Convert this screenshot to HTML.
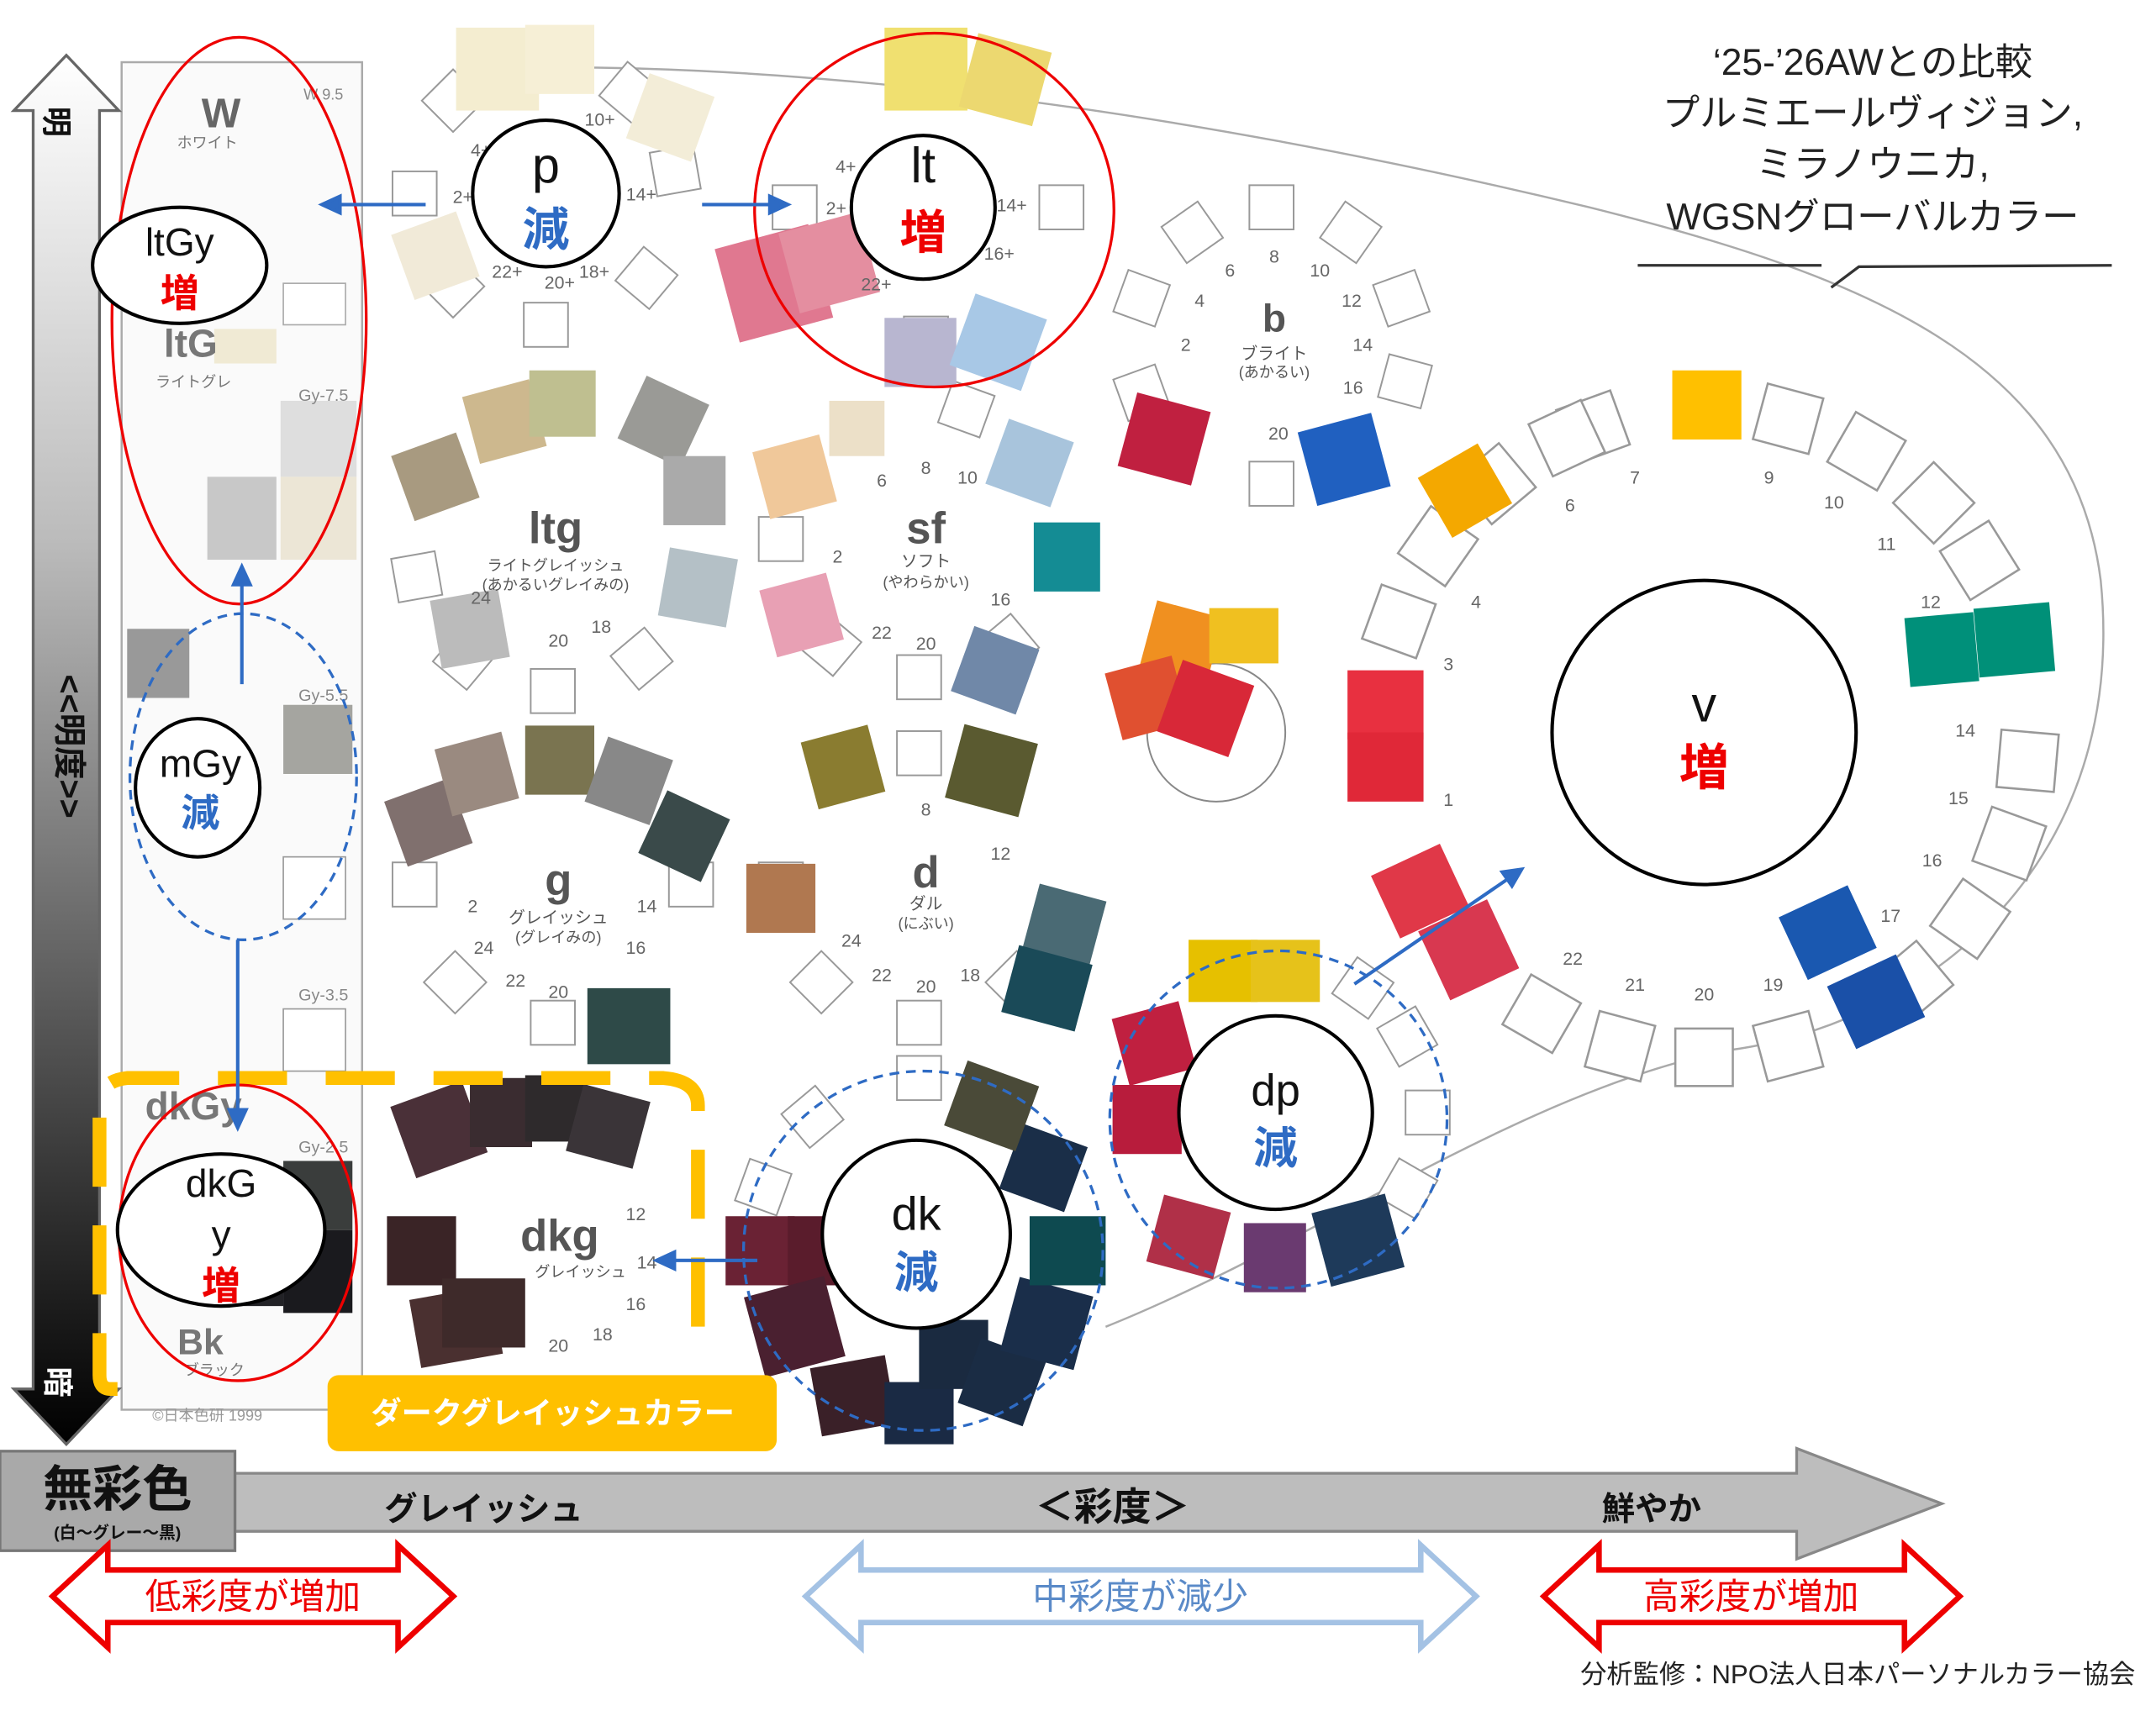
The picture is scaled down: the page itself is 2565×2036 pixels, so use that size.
<!DOCTYPE html>
<html><head><meta charset="utf-8"><style>
html,body{margin:0;padding:0;background:#fff;}
svg{display:block;}
text{font-family:"Liberation Sans","Noto Sans CJK JP",sans-serif;}
</style></head><body>
<svg width="2565" height="2036" viewBox="0 0 1560 1238" preserveAspectRatio="none" xmlns="http://www.w3.org/2000/svg">
<defs>
<linearGradient id="lg" x1="0" y1="0" x2="0" y2="1">
<stop offset="0" stop-color="#ffffff"/><stop offset="0.35" stop-color="#bbbbbb"/><stop offset="0.7" stop-color="#555"/><stop offset="1" stop-color="#000"/>
</linearGradient>
<rect id="sq" x="-16" y="-16" width="32" height="32" fill="#fff" stroke="#999" stroke-width="1.2"/>
</defs>
<rect width="1560" height="1238" fill="#fff"/>

<path d="M330,50 C600,40 900,90 1150,150 C1350,200 1500,260 1520,420 C1540,620 1400,740 1250,760 C1100,790 950,900 800,960" fill="none" stroke="#aaa" stroke-width="1.5"/>

<rect x="88" y="45" width="174" height="975" fill="#fafafa" stroke="#aaa" stroke-width="1.5"/>
<rect x="150" y="345" width="50" height="60" fill="#c8c8c8"/>
<rect x="203" y="290" width="55" height="55" fill="#dedede"/>
<rect x="203" y="345" width="55" height="60" fill="#ece6d6"/>
<rect x="155" y="238" width="45" height="25" fill="#f0ead4"/>
<rect x="92" y="455" width="45" height="50" fill="#999"/>
<rect x="205" y="510" width="50" height="50" fill="#a5a5a0"/>
<rect x="205" y="620" width="45" height="45" fill="#fff" stroke="#999"/>
<rect x="205" y="730" width="45" height="45" fill="#fff" stroke="#999"/>
<rect x="205" y="840" width="50" height="50" fill="#3a3d3c"/>
<rect x="205" y="890" width="50" height="60" fill="#1a1a1e"/>
<rect x="150" y="890" width="55" height="55" fill="#222226"/>
<rect x="205" y="205" width="45" height="30" fill="#fff" stroke="#aaa"/>
<text x="160" y="92" font-size="30" font-weight="bold" fill="#666" text-anchor="middle">W</text>
<text x="150" y="107" font-size="11" fill="#777" text-anchor="middle">ホワイト</text>
<text x="138" y="258" font-size="28" font-weight="bold" fill="#777" text-anchor="middle">ltG</text>
<text x="140" y="280" font-size="11" fill="#777" text-anchor="middle">ライトグレ</text>
<text x="234" y="72" font-size="11" fill="#888" text-anchor="middle">W 9.5</text>
<text x="234" y="290" font-size="12" fill="#888" text-anchor="middle">Gy-7.5</text>
<text x="234" y="507" font-size="12" fill="#888" text-anchor="middle">Gy-5.5</text>
<text x="234" y="724" font-size="12" fill="#888" text-anchor="middle">Gy-3.5</text>
<text x="234" y="834" font-size="12" fill="#888" text-anchor="middle">Gy-2.5</text>
<text x="140" y="810" font-size="28" font-weight="bold" fill="#777" text-anchor="middle">dkGy</text>
<text x="145" y="980" font-size="26" font-weight="bold" fill="#777" text-anchor="middle">Bk</text>
<text x="155" y="995" font-size="11" fill="#777" text-anchor="middle">ブラック</text>
<text x="150" y="1028" font-size="11" fill="#999" text-anchor="middle">©日本色研 1999</text>

<path d="M48,40 L86,80 L72,80 L72,1005 L86,1005 L48,1045 L10,1005 L24,1005 L24,80 L10,80 Z" fill="url(#lg)" stroke="#666" stroke-width="2"/>
<text x="42" y="97" font-size="22" font-weight="bold" fill="#111" text-anchor="middle" transform="rotate(90 42 88)">明</text>
<text x="42" y="1008" font-size="22" font-weight="bold" fill="#fff" text-anchor="middle" transform="rotate(90 42 1000)">暗</text>
<text x="42" y="540" font-size="24" font-weight="bold" fill="#111" text-anchor="middle" transform="rotate(90 42 540)">&lt;&lt;明度&gt;&gt;</text>

<!-- wheels of squares (under swatches) -->
<g transform="translate(395,140)"><use href="#sq" transform="rotate(0) translate(0,-95)"/><use href="#sq" transform="rotate(40) translate(0,-95)"/><use href="#sq" transform="rotate(80) translate(0,-95)"/><use href="#sq" transform="rotate(130) translate(0,-95)"/><use href="#sq" transform="rotate(180) translate(0,-95)"/><use href="#sq" transform="rotate(225) translate(0,-95)"/><use href="#sq" transform="rotate(270) translate(0,-95)"/><use href="#sq" transform="rotate(315) translate(0,-95)"/></g>
<g transform="translate(670,150)"><use href="#sq" transform="rotate(90) translate(0,-98)"/><use href="#sq" transform="rotate(270) translate(0,-95)"/><use href="#sq" transform="rotate(180) translate(0,-95)"/></g>
<g transform="translate(920,250)"><use href="#sq" transform="rotate(0) translate(0,-100)"/><use href="#sq" transform="rotate(35) translate(0,-100)"/><use href="#sq" transform="rotate(70) translate(0,-100)"/><use href="#sq" transform="rotate(105) translate(0,-100)"/><use href="#sq" transform="rotate(180) translate(0,-100)"/><use href="#sq" transform="rotate(250) translate(0,-100)"/><use href="#sq" transform="rotate(290) translate(0,-100)"/><use href="#sq" transform="rotate(325) translate(0,-100)"/></g>
<g transform="translate(400,400)"><use href="#sq" transform="rotate(260) translate(0,-100)"/><use href="#sq" transform="rotate(220) translate(0,-100)"/><use href="#sq" transform="rotate(180) translate(0,-100)"/><use href="#sq" transform="rotate(140) translate(0,-100)"/></g>
<g transform="translate(665,390)"><use href="#sq" transform="rotate(270) translate(0,-100)"/><use href="#sq" transform="rotate(220) translate(0,-100)"/><use href="#sq" transform="rotate(180) translate(0,-100)"/><use href="#sq" transform="rotate(140) translate(0,-100)"/><use href="#sq" transform="rotate(20) translate(0,-100)"/></g>
<g transform="translate(400,640)"><use href="#sq" transform="rotate(270) translate(0,-100)"/><use href="#sq" transform="rotate(225) translate(0,-100)"/><use href="#sq" transform="rotate(180) translate(0,-100)"/><use href="#sq" transform="rotate(90) translate(0,-100)"/></g>
<g transform="translate(665,640)"><use href="#sq" transform="rotate(270) translate(0,-100)"/><use href="#sq" transform="rotate(225) translate(0,-100)"/><use href="#sq" transform="rotate(180) translate(0,-100)"/><use href="#sq" transform="rotate(135) translate(0,-100)"/><use href="#sq" transform="rotate(0) translate(0,-95)"/></g>
<g transform="translate(665,900)"><use href="#sq" transform="rotate(0) translate(0,-120)"/><use href="#sq" transform="rotate(320) translate(0,-120)"/><use href="#sq" transform="rotate(290) translate(0,-120)"/></g>
<g transform="translate(923,805)"><use href="#sq" transform="rotate(60) translate(0,-110)"/><use href="#sq" transform="rotate(90) translate(0,-110)"/><use href="#sq" transform="rotate(120) translate(0,-110)"/><use href="#sq" transform="rotate(35) translate(0,-110)"/></g>
<g transform="translate(1233,530)">
<use href="#sq" transform="rotate(-20) translate(0,-235) scale(1.3)"/><use href="#sq" transform="rotate(15) translate(0,-235) scale(1.3)"/><use href="#sq" transform="rotate(30) translate(0,-235) scale(1.3)"/><use href="#sq" transform="rotate(45) translate(0,-235) scale(1.3)"/><use href="#sq" transform="rotate(58) translate(0,-235) scale(1.3)"/><use href="#sq" transform="rotate(95) translate(0,-235) scale(1.3)"/><use href="#sq" transform="rotate(110) translate(0,-235) scale(1.3)"/><use href="#sq" transform="rotate(125) translate(0,-235) scale(1.3)"/><use href="#sq" transform="rotate(140) translate(0,-235) scale(1.3)"/><use href="#sq" transform="rotate(165) translate(0,-235) scale(1.3)"/><use href="#sq" transform="rotate(180) translate(0,-235) scale(1.3)"/><use href="#sq" transform="rotate(195) translate(0,-235) scale(1.3)"/><use href="#sq" transform="rotate(210) translate(0,-235) scale(1.3)"/><use href="#sq" transform="rotate(290) translate(0,-235) scale(1.3)"/><use href="#sq" transform="rotate(305) translate(0,-235) scale(1.3)"/><use href="#sq" transform="rotate(320) translate(0,-235) scale(1.3)"/><use href="#sq" transform="rotate(335) translate(0,-235) scale(1.3)"/>
</g>

<g>
<rect x="330" y="20" width="60" height="60" fill="#f4edd0"/>
<rect x="380" y="18" width="50" height="50" fill="#f6efd6"/>
<rect x="460" y="60" width="50" height="50" fill="#f3edd8" transform="rotate(20 485 85)"/>
<rect x="290" y="160" width="50" height="50" fill="#f1ead8" transform="rotate(-20 315 185)"/>
<rect x="640" y="20" width="60" height="60" fill="#f0e070"/>
<rect x="700" y="30" width="55" height="55" fill="#ecd870" transform="rotate(15 727 57)"/>
<rect x="525" y="170" width="70" height="70" fill="#e07890" transform="rotate(-15 560 205)"/>
<rect x="570" y="160" width="60" height="60" fill="#e48ea0" transform="rotate(-15 600 190)"/>
<rect x="640" y="230" width="52" height="50" fill="#b8b6d0"/>
<rect x="695" y="220" width="55" height="55" fill="#a8c8e6" transform="rotate(20 722 247)"/>
<rect x="290" y="320" width="50" height="50" fill="#a89a80" transform="rotate(-20 315 345)"/>
<rect x="340" y="280" width="50" height="50" fill="#cdb88e" transform="rotate(-15 365 305)"/>
<rect x="383" y="268" width="48" height="48" fill="#bfbf90"/>
<rect x="455" y="280" width="50" height="50" fill="#9a9a96" transform="rotate(25 480 305)"/>
<rect x="480" y="330" width="45" height="50" fill="#aaa"/>
<rect x="480" y="400" width="50" height="50" fill="#b4c0c6" transform="rotate(10 505 425)"/>
<rect x="315" y="430" width="50" height="50" fill="#bbb" transform="rotate(-10 340 455)"/>
<rect x="550" y="320" width="50" height="50" fill="#f0c89a" transform="rotate(-15 575 345)"/>
<rect x="600" y="290" width="40" height="40" fill="#ece0c8"/>
<rect x="720" y="310" width="50" height="50" fill="#a8c4dc" transform="rotate(20 745 335)"/>
<rect x="748" y="378" width="48" height="50" fill="#148c94"/>
<rect x="555" y="420" width="50" height="50" fill="#e8a0b4" transform="rotate(-15 580 445)"/>
<rect x="695" y="460" width="50" height="50" fill="#7088a8" transform="rotate(20 720 485)"/>
<rect x="815" y="290" width="55" height="55" fill="#c02040" transform="rotate(15 842 317)"/>
<rect x="945" y="305" width="55" height="55" fill="#2060c0" transform="rotate(-15 972 332)"/>
<rect x="285" y="570" width="50" height="50" fill="#80706e" transform="rotate(-20 310 595)"/>
<rect x="320" y="535" width="50" height="50" fill="#9a8a80" transform="rotate(-15 345 560)"/>
<rect x="380" y="525" width="50" height="50" fill="#7a7450"/>
<rect x="430" y="540" width="50" height="50" fill="#888" transform="rotate(20 455 565)"/>
<rect x="470" y="580" width="50" height="50" fill="#3a4a4a" transform="rotate(25 495 605)"/>
<rect x="425" y="715" width="60" height="55" fill="#2e4a48"/>
<rect x="585" y="530" width="50" height="50" fill="#8a7c30" transform="rotate(-15 610 555)"/>
<rect x="690" y="530" width="55" height="55" fill="#5a5a30" transform="rotate(15 717 557)"/>
<rect x="540" y="625" width="50" height="50" fill="#b07850"/>
<rect x="745" y="645" width="50" height="50" fill="#4a6a74" transform="rotate(15 770 670)"/>
<rect x="730" y="690" width="55" height="50" fill="#1a4a58" transform="rotate(15 757 715)"/>
<rect x="290" y="790" width="55" height="55" fill="#4a3038" transform="rotate(-20 317 817)"/>
<rect x="340" y="780" width="45" height="50" fill="#3a2c30"/>
<rect x="380" y="778" width="45" height="48" fill="#2e2a2c"/>
<rect x="415" y="790" width="50" height="50" fill="#3a3438" transform="rotate(15 440 815)"/>
<rect x="280" y="880" width="50" height="50" fill="#3a2426"/>
<rect x="300" y="935" width="60" height="50" fill="#4a3030" transform="rotate(-10 330 960)"/>
<rect x="320" y="925" width="60" height="50" fill="#3e2a2a"/>
<rect x="525" y="880" width="50" height="50" fill="#6a2234"/>
<rect x="570" y="880" width="40" height="50" fill="#5a1c2c"/>
<rect x="545" y="930" width="60" height="60" fill="#4a2030" transform="rotate(-15 575 960)"/>
<rect x="590" y="985" width="55" height="50" fill="#3a2028" transform="rotate(-10 617 1010)"/>
<rect x="640" y="1000" width="50" height="45" fill="#1a2a44"/>
<rect x="665" y="955" width="50" height="50" fill="#1a2a40"/>
<rect x="700" y="975" width="50" height="50" fill="#1a2c44" transform="rotate(20 725 1000)"/>
<rect x="730" y="930" width="55" height="55" fill="#1a2e4a" transform="rotate(15 757 957)"/>
<rect x="745" y="880" width="55" height="50" fill="#0e4a50"/>
<rect x="730" y="820" width="50" height="50" fill="#1a2e48" transform="rotate(20 755 845)"/>
<rect x="690" y="775" width="55" height="50" fill="#4a4a38" transform="rotate(20 717 800)"/>
<rect x="860" y="680" width="50" height="45" fill="#e6c000"/>
<rect x="905" y="680" width="50" height="45" fill="#e6c21a"/>
<rect x="810" y="730" width="50" height="50" fill="#c02040" transform="rotate(-15 835 755)"/>
<rect x="805" y="785" width="50" height="50" fill="#b81c3c"/>
<rect x="835" y="870" width="50" height="50" fill="#b03048" transform="rotate(15 860 895)"/>
<rect x="900" y="885" width="45" height="50" fill="#6a3a70"/>
<rect x="955" y="870" width="55" height="55" fill="#1e3a5a" transform="rotate(-15 982 897)"/>
<rect x="1210" y="268" width="50" height="50" fill="#ffc000"/>
<rect x="1035" y="330" width="50" height="50" fill="#f4a800" transform="rotate(-30 1060 355)"/>
<rect x="975" y="485" width="55" height="50" fill="#e83040"/>
<rect x="975" y="530" width="55" height="50" fill="#e02838"/>
<rect x="1000" y="620" width="55" height="50" fill="#e03848" transform="rotate(-25 1027 645)"/>
<rect x="1035" y="660" width="55" height="55" fill="#d83850" transform="rotate(-25 1062 687)"/>
<rect x="1380" y="445" width="50" height="50" fill="#00907a" transform="rotate(-5 1405 470)"/>
<rect x="1430" y="438" width="55" height="50" fill="#009078" transform="rotate(-5 1457 463)"/>
<rect x="1295" y="650" width="55" height="50" fill="#1a58b0" transform="rotate(-25 1322 675)"/>
<rect x="1330" y="700" width="55" height="50" fill="#1a50a8" transform="rotate(-25 1357 725)"/>
<circle cx="880" cy="530" r="50" fill="none" stroke="#888" stroke-width="1.2"/>
<rect x="830" y="440" width="50" height="50" fill="#f09020" transform="rotate(15 855 465)"/>
<rect x="875" y="440" width="50" height="40" fill="#f0c020"/>
<rect x="805" y="480" width="50" height="50" fill="#e05030" transform="rotate(-15 830 505)"/>
<rect x="845" y="485" width="55" height="55" fill="#d82838" transform="rotate(20 872 512)"/>
</g>

<g fill="#555" text-anchor="middle">
<text x="922" y="240" font-size="28" font-weight="bold">b</text>
<text x="922" y="260" font-size="12">ブライト</text><text x="922" y="273" font-size="11">(あかるい)</text>
<text x="402" y="393" font-size="32" font-weight="bold">ltg</text>
<text x="402" y="413" font-size="11">ライトグレイッシュ</text><text x="402" y="427" font-size="11">(あかるいグレイみの)</text>
<text x="670" y="393" font-size="32" font-weight="bold">sf</text>
<text x="670" y="410" font-size="12">ソフト</text><text x="670" y="425" font-size="11">(やわらかい)</text>
<text x="404" y="648" font-size="32" font-weight="bold">g</text>
<text x="404" y="668" font-size="12">グレイッシュ</text><text x="404" y="682" font-size="11">(グレイみの)</text>
<text x="670" y="642" font-size="32" font-weight="bold">d</text>
<text x="670" y="658" font-size="12">ダル</text><text x="670" y="672" font-size="11">(にぶい)</text>
<text x="405" y="905" font-size="32" font-weight="bold">dkg</text>
<text x="420" y="924" font-size="11">グレイッシュ</text>
<g font-size="13" fill="#666">
<text x="1183" y="350">7</text><text x="1280" y="350">9</text><text x="1327" y="368">10</text><text x="1365" y="398">11</text><text x="1397" y="440">12</text><text x="1422" y="533">14</text><text x="1417" y="582">15</text><text x="1398" y="627">16</text><text x="1368" y="667">17</text><text x="1283" y="717">19</text><text x="1233" y="724">20</text><text x="1183" y="717">21</text><text x="1138" y="698">22</text><text x="1136" y="370">6</text><text x="1068" y="440">4</text><text x="1048" y="485">3</text><text x="1048" y="583">1</text>
<text x="890" y="200">6</text><text x="922" y="190">8</text><text x="955" y="200">10</text><text x="978" y="222">12</text><text x="986" y="254">14</text><text x="979" y="285">16</text><text x="868" y="222">4</text><text x="858" y="254">2</text><text x="925" y="318">20</text>
<text x="405" y="209">20+</text><text x="367" y="201">22+</text><text x="335" y="147">2+</text><text x="348" y="113">4+</text><text x="434" y="91">10+</text><text x="464" y="145">14+</text><text x="430" y="201">18+</text>
<text x="605" y="155">2+</text><text x="612" y="125">4+</text><text x="732" y="153">14+</text><text x="723" y="188">16+</text><text x="634" y="210">22+</text>
<text x="670" y="343">8</text><text x="700" y="350">10</text><text x="638" y="352">6</text><text x="606" y="407">2</text><text x="724" y="438">16</text><text x="638" y="462">22</text><text x="670" y="470">20</text>
<text x="348" y="437">24</text><text x="404" y="468">20</text><text x="435" y="458">18</text>
<text x="342" y="660">2</text><text x="350" y="690">24</text><text x="373" y="714">22</text><text x="404" y="722">20</text><text x="460" y="690">16</text><text x="468" y="660">14</text>
<text x="670" y="590">8</text><text x="724" y="622">12</text><text x="616" y="685">24</text><text x="638" y="710">22</text><text x="670" y="718">20</text><text x="702" y="710">18</text>
<text x="460" y="883">12</text><text x="468" y="918">14</text><text x="460" y="948">16</text><text x="436" y="970">18</text><text x="404" y="978">20</text>
</g>
</g>

<ellipse cx="173" cy="232" rx="92" ry="205" fill="none" stroke="#e00" stroke-width="2"/>
<ellipse cx="130" cy="192" rx="63" ry="42" fill="#fff" stroke="#000" stroke-width="2.5"/>
<text x="130" y="185" font-size="28" text-anchor="middle" fill="#111">ltGy</text>
<text x="130" y="222" font-size="28" font-weight="bold" text-anchor="middle" fill="#e00">増</text>

<ellipse cx="176" cy="562" rx="82" ry="118" fill="none" stroke="#2e6bc4" stroke-width="2" stroke-dasharray="7,5"/>
<ellipse cx="143" cy="570" rx="45" ry="50" fill="#fff" stroke="#000" stroke-width="2.5"/>
<text x="145" y="562" font-size="28" text-anchor="middle" fill="#111">mGy</text>
<text x="145" y="598" font-size="28" font-weight="bold" text-anchor="middle" fill="#2e6bc4">減</text>

<path d="M85,1005 L80,1005 Q72,1005 72,995 L72,800 Q72,782 92,780 L480,780 Q505,782 505,800 L505,960" fill="none" stroke="#ffc000" stroke-width="10" stroke-dasharray="50,28"/>
<ellipse cx="172" cy="892" rx="86" ry="107" fill="none" stroke="#e00" stroke-width="2"/>
<ellipse cx="160" cy="890" rx="75" ry="55" fill="#fff" stroke="#000" stroke-width="2.5"/>
<text x="160" y="866" font-size="28" text-anchor="middle" fill="#111">dkG</text>
<text x="160" y="903" font-size="28" text-anchor="middle" fill="#111">y</text>
<text x="160" y="940" font-size="28" font-weight="bold" text-anchor="middle" fill="#e00">増</text>
<rect x="237" y="995" width="325" height="55" rx="8" fill="#ffc000"/>
<text x="400" y="1030" font-size="22" font-weight="bold" text-anchor="middle" fill="#fff">ダークグレイッシュカラー</text>

<circle cx="395" cy="140" r="53" fill="#fff" stroke="#000" stroke-width="2.5"/>
<text x="395" y="132" font-size="36" text-anchor="middle" fill="#111">p</text>
<text x="395" y="178" font-size="34" font-weight="bold" text-anchor="middle" fill="#2e6bc4">減</text>

<ellipse cx="676" cy="152" rx="130" ry="128" fill="none" stroke="#e00" stroke-width="2"/>
<circle cx="668" cy="150" r="52" fill="#fff" stroke="#000" stroke-width="2.5"/>
<text x="668" y="132" font-size="36" text-anchor="middle" fill="#111">lt</text>
<text x="668" y="180" font-size="34" font-weight="bold" text-anchor="middle" fill="#e00">増</text>

<circle cx="1233" cy="530" r="110" fill="#fff" stroke="#000" stroke-width="2.5"/>
<text x="1233" y="522" font-size="36" text-anchor="middle" fill="#111">v</text>
<text x="1233" y="568" font-size="36" font-weight="bold" text-anchor="middle" fill="#e00">増</text>

<circle cx="925" cy="810" r="122" fill="none" stroke="#2e6bc4" stroke-width="2" stroke-dasharray="7,5"/>
<circle cx="923" cy="805" r="70" fill="#fff" stroke="#000" stroke-width="2.5"/>
<text x="923" y="800" font-size="32" text-anchor="middle" fill="#111">dp</text>
<text x="923" y="842" font-size="32" font-weight="bold" text-anchor="middle" fill="#2e6bc4">減</text>

<circle cx="668" cy="905" r="130" fill="none" stroke="#2e6bc4" stroke-width="2" stroke-dasharray="7,5"/>
<circle cx="663" cy="893" r="68" fill="#fff" stroke="#000" stroke-width="2.5"/>
<text x="663" y="890" font-size="34" text-anchor="middle" fill="#111">dk</text>
<text x="663" y="932" font-size="32" font-weight="bold" text-anchor="middle" fill="#2e6bc4">減</text>

<g stroke="#2e6bc4" stroke-width="2.5" fill="#2e6bc4">
<line x1="308" y1="148" x2="244" y2="148"/><path d="M233,148 L246,142 L246,154 Z"/>
<line x1="508" y1="148" x2="558" y2="148"/><path d="M570,148 L557,142 L557,154 Z"/>
<line x1="175" y1="495" x2="175" y2="421"/><path d="M175,410 L169,423 L181,423 Z"/>
<line x1="172" y1="680" x2="172" y2="804"/><path d="M172,816 L166,803 L178,803 Z"/>
<line x1="548" y1="912" x2="486" y2="912"/><path d="M475,912 L488,906 L488,918 Z"/>
<line x1="980" y1="712" x2="1091" y2="636"/><path d="M1101,629 L1087,631 L1094,641 Z"/>
</g>

<path d="M170,1066 L1300,1066 L1300,1048 L1405,1088 L1300,1128 L1300,1108 L170,1108 Z" fill="#bdbdbd" stroke="#888" stroke-width="2"/>
<rect x="0" y="1050" width="170" height="72" fill="#a9a9a9" stroke="#777" stroke-width="2"/>
<text x="85" y="1090" font-size="36" font-weight="bold" text-anchor="middle" fill="#111">無彩色</text>
<text x="85" y="1113" font-size="12" font-weight="bold" text-anchor="middle" fill="#111">(白～グレー～黒)</text>
<text x="350" y="1100" font-size="24" font-weight="bold" text-anchor="middle" fill="#111">グレイッシュ</text>
<text x="805" y="1100" font-size="28" font-weight="bold" text-anchor="middle" fill="#111">＜彩度＞</text>
<text x="1195" y="1100" font-size="24" font-weight="bold" text-anchor="middle" fill="#111">鮮やか</text>

<path d="M38,1155 L78,1118 L78,1136 L288,1136 L288,1118 L328,1155 L288,1192 L288,1174 L78,1174 L78,1192 Z" fill="#fff" stroke="#e00" stroke-width="4"/>
<text x="183" y="1164" font-size="26" text-anchor="middle" fill="#e00">低彩度が増加</text>
<path d="M583,1155 L623,1118 L623,1136 L1028,1136 L1028,1118 L1068,1155 L1028,1192 L1028,1174 L623,1174 L623,1192 Z" fill="#fff" stroke="#a4c2e4" stroke-width="4"/>
<text x="825" y="1164" font-size="26" text-anchor="middle" fill="#5a8ac8">中彩度が減少</text>
<path d="M1117,1155 L1157,1118 L1157,1136 L1378,1136 L1378,1118 L1418,1155 L1378,1192 L1378,1174 L1157,1174 L1157,1192 Z" fill="#fff" stroke="#e00" stroke-width="4"/>
<text x="1267" y="1164" font-size="26" text-anchor="middle" fill="#e00">高彩度が増加</text>

<text x="1545" y="1218" font-size="19" text-anchor="end" fill="#222">分析監修：NPO法人日本パーソナルカラー協会</text>

<g font-size="27" text-anchor="middle" fill="#222">
<text x="1355" y="54">‘25-’26AWとの比較</text>
<text x="1355" y="91">プルミエールヴィジョン,</text>
<text x="1355" y="128">ミラノウニカ,</text>
<text x="1355" y="166">WGSNグローバルカラー</text>
</g>
<path d="M1185,192 L1318,192 M1325,208 L1345,193 L1528,192" stroke="#333" stroke-width="2" fill="none"/>
</svg>
</body></html>
